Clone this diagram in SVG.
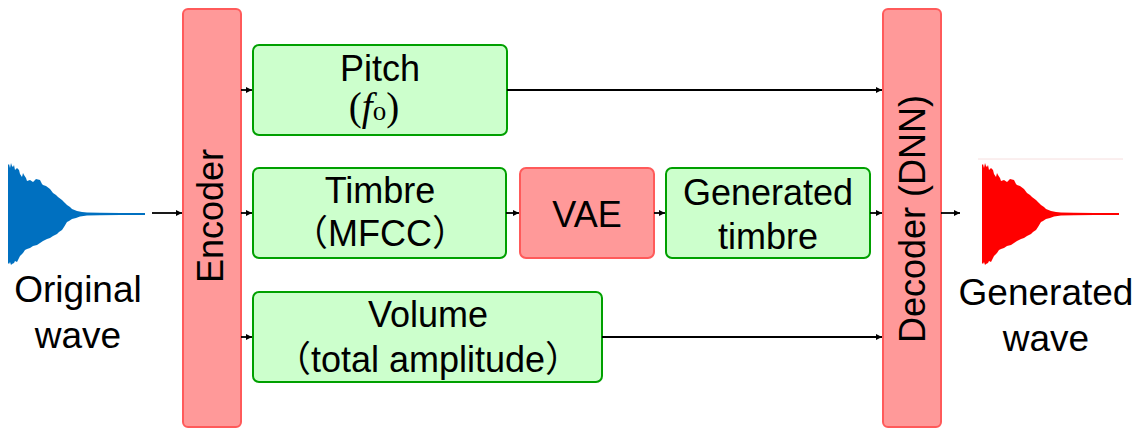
<svg xmlns="http://www.w3.org/2000/svg" xmlns:xlink="http://www.w3.org/1999/xlink" width="1142" height="429" viewBox="0 0 1142 429">
  <style>
    .red { fill: #ff9999; stroke: #ff5a5a; stroke-width: 2; }
    .green { fill: #ccffcc; stroke: #00a000; stroke-width: 2; }
    .t { font-family: "Liberation Sans", "Noto Sans CJK JP", sans-serif; font-size: 36px; fill: #000; text-anchor: middle; }
    .lbl { font-family: "Liberation Sans", Arial, sans-serif; font-size: 37px; fill: #000; text-anchor: middle; }
    .math { font-family: "Liberation Serif", "DejaVu Serif", serif; font-size: 39px; fill: #000; text-anchor: middle; }
    .conn { stroke: #000; stroke-width: 1.8; fill: none; marker-end: url(#ah); }
  </style>
  <defs>
    <marker id="ah" viewBox="0 0 10 10" refX="10" refY="5" markerWidth="8" markerHeight="6" markerUnits="userSpaceOnUse" orient="auto">
      <path d="M0,0 L10,5 L0,10 Z" fill="#000"/>
    </marker>
    <path id="wave" d="M8,165 L9,164 L10,168 L11,163 L12,166 L13,167 L14,165 L15,170 L17,168 L19,170 L20,174 L22,177 L23,173 L24,175 L26,178 L27,181 L30,180 L33,182 L36,179 L40,180 L42,184 L43,185 L46,186 L50,189 L53,193 L56,195 L58,197 L62,200 L65,203 L67,205 L70,207 L72,209 L77,211 L82,212 L87,212.6 L100,212.8 L120,212.9 L145,213 L145,215 L120,215.1 L100,215.3 L87,215.5 L80,216.5 L76,218 L72,219 L69,221 L67,222 L64,227 L62,230 L59,232 L57,234 L53,236 L50,238 L47,239 L43,241 L40,243 L37,245 L33,246 L30,248 L27,249 L25,250 L23,253 L20,256 L18,260 L17,262 L15,261 L14,263 L12,264 L11,265 L10,262 L9,264 L8,263 Z"/>
  </defs>

  <g id="original-wave">
    <use xlink:href="#wave" href="#wave" fill="#0070c0"/>
    <text class="lbl" x="78" y="302">Original</text>
    <text class="lbl" x="78" y="348">wave</text>
  </g>

  <g id="generated-wave">
    <line x1="978" y1="159" x2="1123" y2="159" stroke="#f6dede" stroke-width="1"/>
    <use xlink:href="#wave" href="#wave" fill="#ff0000" transform="translate(974,0)"/>
    <text class="lbl" x="1046" y="305">Generated</text>
    <text class="lbl" x="1046" y="351">wave</text>
  </g>

  <g id="encoder">
    <rect class="red" x="183" y="9" width="58" height="418" rx="5"/>
    <text class="t" transform="translate(223,216) rotate(-90)">Encoder</text>
  </g>

  <g id="decoder">
    <rect class="red" x="883" y="9" width="58" height="418" rx="5"/>
    <text class="t" transform="translate(925,219) rotate(-90)">Decoder (DNN)</text>
  </g>

  <g id="pitch">
    <rect class="green" x="253" y="45" width="254" height="90" rx="6"/>
    <text class="t" x="380" y="81">Pitch</text>
    <text class="math" x="374" y="120">(<tspan font-style="italic">f</tspan><tspan font-size="27">o</tspan>)</text>
  </g>

  <g id="timbre">
    <rect class="green" x="253" y="168" width="253" height="90" rx="6"/>
    <text class="t" x="380" y="203">Timbre</text>
    <text class="t" x="380" y="246">（MFCC）</text>
  </g>

  <g id="vae">
    <rect class="red" x="520" y="168" width="134" height="90" rx="6"/>
    <text class="t" x="587" y="227">VAE</text>
  </g>

  <g id="generated-timbre">
    <rect class="green" x="666" y="168" width="204" height="90" rx="6"/>
    <text class="t" x="768" y="205">Generated</text>
    <text class="t" x="768" y="249">timbre</text>
  </g>

  <g id="volume">
    <rect class="green" x="253" y="292" width="349" height="90" rx="6"/>
    <text class="t" x="428" y="327">Volume</text>
    <text class="t" x="428" y="372">（total amplitude）</text>
  </g>

  <g id="connectors">
    <line class="conn" x1="152" y1="213" x2="182" y2="213"/>
    <line class="conn" x1="241" y1="90" x2="252" y2="90"/>
    <line class="conn" x1="241" y1="213" x2="252" y2="213"/>
    <line class="conn" x1="241" y1="337" x2="252" y2="337"/>
    <line class="conn" x1="507" y1="90" x2="882" y2="90"/>
    <line class="conn" x1="506" y1="213" x2="519" y2="213"/>
    <line class="conn" x1="654" y1="213" x2="665" y2="213"/>
    <line class="conn" x1="870" y1="213" x2="882" y2="213"/>
    <line class="conn" x1="602" y1="337" x2="882" y2="337"/>
    <line class="conn" x1="941" y1="213" x2="960" y2="213"/>
  </g>
</svg>
